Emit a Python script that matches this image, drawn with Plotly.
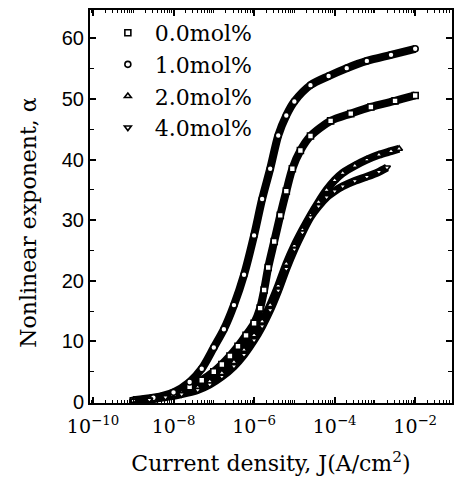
import plotly.graph_objects as go

# ---- data ----
names = ["0.0mol%", "1.0mol%", "2.0mol%", "4.0mol%"]
symbols = ["square", "circle", "triangle-up", "triangle-down"]

logJ_00 = [-9.0, -8.5, -8.0, -7.6, -7.3, -7.0, -6.8, -6.6, -6.4, -6.2, -6.0, -5.85, -5.75, -5.65,
           -5.5, -5.35, -5.2, -5.05, -4.85, -4.6, -4.1, -3.6, -3.1, -2.5, -2.0]
alpha_00 = [0.2, 0.6, 1.4, 2.5, 3.6, 5.0, 6.2, 7.6, 9.2, 11.0, 13.0, 15.5, 18.5, 22.2,
            26.5, 30.8, 34.8, 38.5, 41.5, 43.9, 46.4, 47.6, 48.7, 49.7, 50.6]

logJ_10 = [-9.0, -8.5, -8.0, -7.6, -7.3, -7.0, -6.75, -6.5, -6.25, -6.0, -5.8, -5.6, -5.4,
           -5.2, -5.0, -4.6, -4.15, -3.7, -3.2, -2.6, -2.0]
alpha_10 = [0.3, 0.7, 1.6, 3.3, 5.5, 9.0, 12.0, 16.0, 21.0, 27.5, 33.5, 38.5, 44.0,
            47.3, 49.6, 52.3, 53.8, 55.1, 56.3, 57.3, 58.3]

logJ_20 = [-9.0, -8.6, -8.2, -7.8, -7.4, -7.1, -6.8, -6.5, -6.25, -6.0, -5.8, -5.6, -5.4, -5.2,
           -5.0, -4.8, -4.6, -4.4, -4.2, -4.0, -3.8, -3.5, -3.2, -2.9, -2.6, -2.4]
alpha_20 = [0.2, 0.5, 0.9, 1.5, 2.4, 3.4, 4.8, 6.6, 8.6, 11.0, 13.3, 16.0, 19.2, 22.8,
            25.8, 28.4, 30.8, 33.0, 35.0, 36.6, 37.8, 39.0, 40.0, 40.8, 41.4, 41.8]

logJ_40 = [-9.0, -8.6, -8.2, -7.8, -7.4, -7.1, -6.8, -6.5, -6.25, -6.0, -5.8, -5.6, -5.4, -5.2,
           -5.0, -4.8, -4.6, -4.4, -4.2, -4.0, -3.8, -3.5, -3.2, -2.9, -2.7]
alpha_40 = [0.2, 0.4, 0.8, 1.3, 2.0, 2.9, 4.2, 5.9, 7.8, 10.2, 12.5, 15.2, 18.4, 22.0,
            25.2, 28.0, 30.5, 32.3, 33.8, 34.8, 35.6, 36.5, 37.2, 38.0, 38.7]

series_logJ = [logJ_00, logJ_10, logJ_20, logJ_40]
series_alpha = [alpha_00, alpha_10, alpha_20, alpha_40]

x_major_exp = [-10, -8, -6, -4, -2]
x_ticktext = ["10<sup>\u221210</sup>", "10<sup>\u22128</sup>", "10<sup>\u22126</sup>",
              "10<sup>\u22124</sup>", "10<sup>\u22122</sup>"]
y_tickvals = [0, 10, 20, 30, 40, 50, 60]

# minor tick positions on the log axis (odd decades and 2..9 within each decade)
x_minor = []
for e in range(-11, 0):
    for m in range(1, 10):
        if m == 1 and e % 2 == 0:
            continue
        x_minor.append(m * 10.0 ** e)

fig = go.Figure()

# thick bands formed by dense markers
for lj, al in zip(series_logJ, series_alpha):
    fig.add_trace(go.Scatter(
        x=[10 ** v for v in lj], y=al, mode="lines",
        line=dict(color="black", width=8, shape="spline", smoothing=0.8),
        showlegend=False, hoverinfo="skip"))

for name, sym, lj, al in zip(names, symbols, series_logJ, series_alpha):
    fig.add_trace(go.Scatter(
        x=[10 ** v for v in lj], y=al, mode="markers", name=name,
        marker=dict(symbol=sym, size=6, color="white",
                    line=dict(color="black", width=1.6))))

fig.update_layout(
    width=454, height=480,
    margin=dict(l=90, r=0, t=10, b=77),
    paper_bgcolor="white", plot_bgcolor="white",
    showlegend=True,
    legend=dict(x=0.03, y=0.995, xanchor="left", yanchor="top",
                bgcolor="rgba(0,0,0,0)", borderwidth=0,
                font=dict(family="DejaVu Serif", size=22, color="black"),
                itemwidth=44, tracegroupgap=0),
    font=dict(family="DejaVu Serif", color="black"),
    annotations=[dict(
        text="Nonlinear exponent, \u03b1", textangle=-90,
        xref="paper", yref="paper", x=-0.17, y=0.46,
        xanchor="center", yanchor="middle", showarrow=False,
        font=dict(family="DejaVu Serif", size=22, color="black"))],
)

fig.update_xaxes(
    type="log", range=[-10.074, -1.086],
    tickvals=[10 ** e for e in x_major_exp], ticktext=x_ticktext,
    ticks="inside", ticklen=6, tickwidth=1.5, tickcolor="black",
    ticklabelstandoff=5,
    minor=dict(tickvals=x_minor, ticks="inside", ticklen=3, tickwidth=1,
               tickcolor="black", showgrid=False),
    showline=True, linecolor="black", linewidth=2, mirror="ticks",
    showgrid=False, zeroline=False,
    tickfont=dict(family="DejaVu Serif", size=19, color="black"),
    title=dict(text="Current density, J(A/cm<sup>2</sup>)",
               font=dict(family="DejaVu Serif", size=22, color="black"), standoff=20),
)
fig.update_yaxes(
    range=[-0.16, 64.7],
    tickvals=y_tickvals,
    ticks="inside", ticklen=6, tickwidth=1.5, tickcolor="black",
    minor=dict(dtick=5, ticks="inside", ticklen=4, tickwidth=1, tickcolor="black", showgrid=False),
    showline=True, linecolor="black", linewidth=2, mirror="ticks",
    showgrid=False, zeroline=False,
    tickfont=dict(family="Liberation Sans", size=20, color="black"),
)

fig.write_html("out.html")
